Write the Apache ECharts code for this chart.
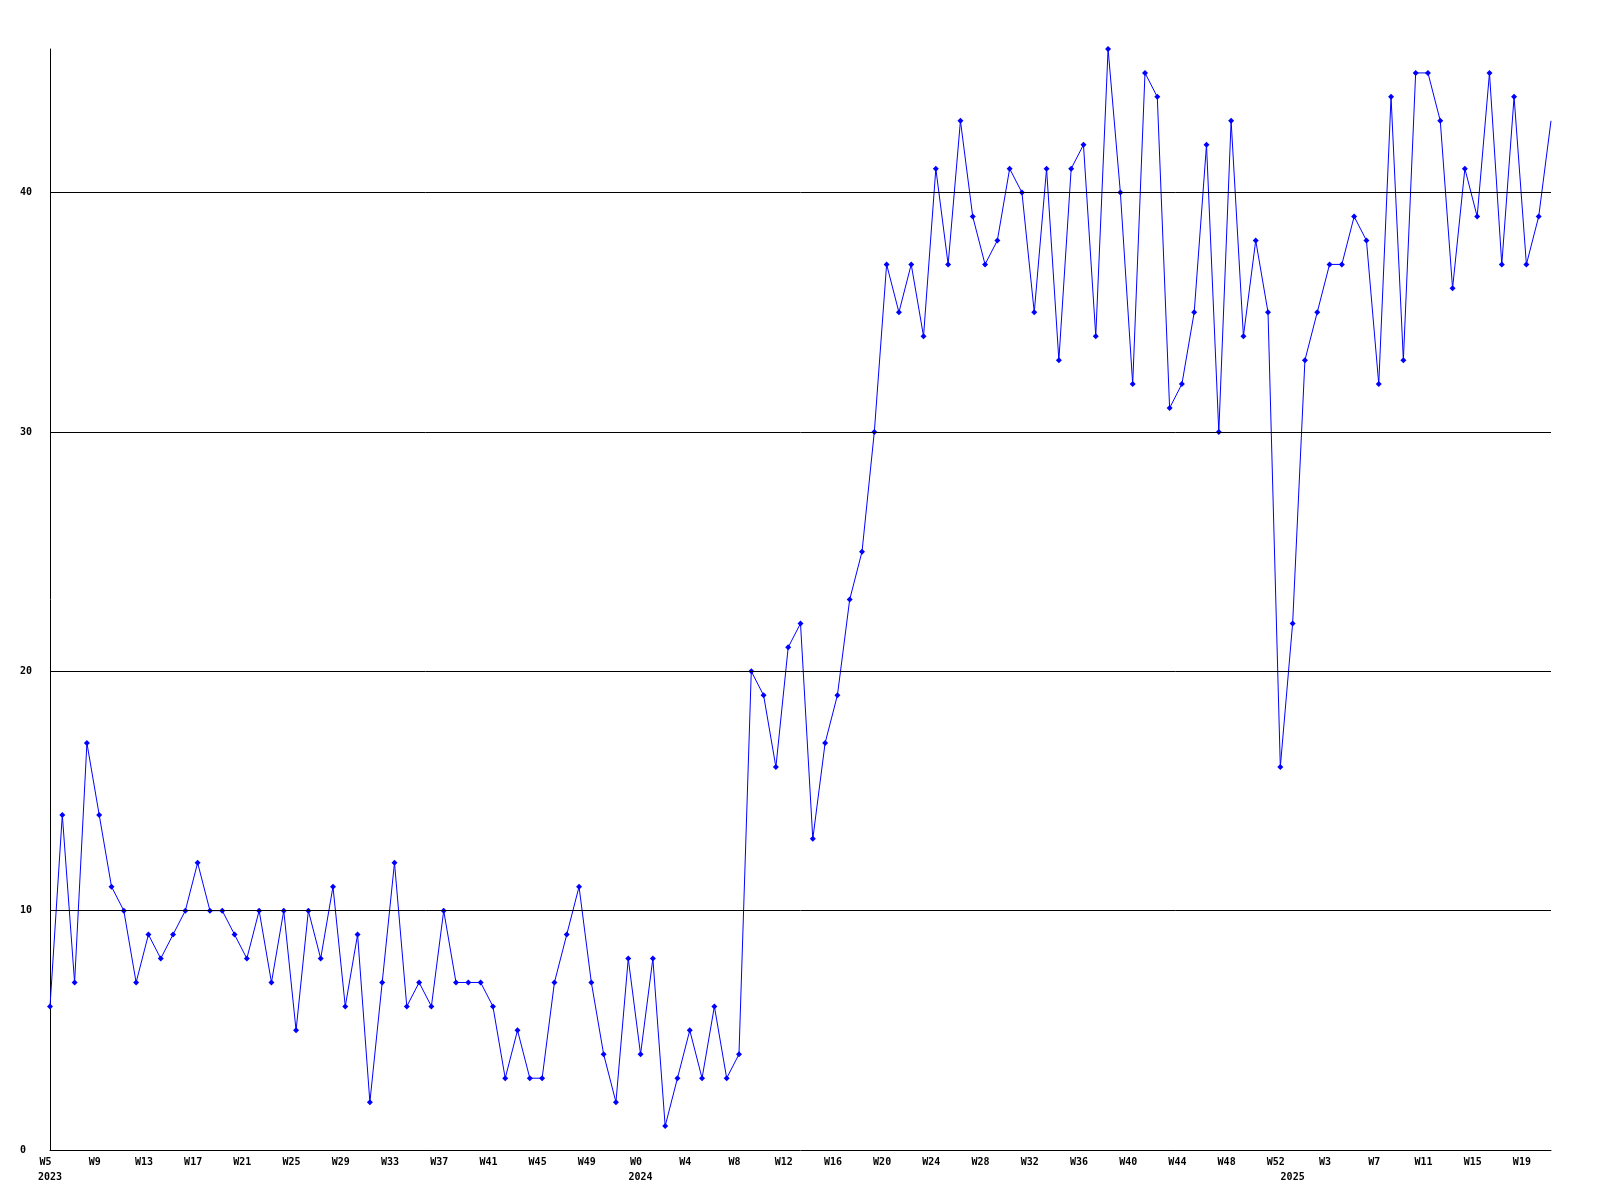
<!DOCTYPE html>
<html><head><meta charset="utf-8">
<script src="https://cdn.jsdelivr.net/npm/echarts@6/dist/echarts.min.js"></script>
<style>html,body{margin:0;padding:0;background:#fff}#c{width:1600px;height:1200px}</style>
</head><body><div id="c"></div>
<script>
// Week ranges covered by the data: [year, first week, last week]
const weekRanges = [[2023, 5, 52], [2024, 0, 52], [2025, 0, 21]];

// Weekly values, one per week
const values = [
  6, 14, 7, 17, 14, 11, 10, 7, 9, 8, 9, 10, 12, 10, 10, 9, 8, 10, 7, 10,
  5, 10, 8, 11, 6, 9, 2, 7, 12, 6, 7, 6, 10, 7, 7, 7, 6, 3, 5, 3,
  3, 7, 9, 11, 7, 4, 2, 8, 4, 8, 1, 3, 5, 3, 6, 3, 4, 20, 19, 16,
  21, 22, 13, 17, 19, 23, 25, 30, 37, 35, 37, 34, 41, 37, 43, 39, 37, 38, 41, 40,
  35, 41, 33, 41, 42, 34, 46, 40, 32, 45, 44, 31, 32, 35, 42, 30, 43, 34, 38, 35,
  16, 22, 33, 35, 37, 37, 39, 38, 32, 44, 33, 45, 45, 43, 36, 41, 39, 45, 37, 44,
  37, 39, 43
];

// Y tick values with gridlines
const yTicks = [10, 20, 30, 40];
const yMax = 46;

// Category labels
const categories = [];
const weekLabels = [];
const yearLabels = [];
weekRanges.forEach(([yr, w0, w1]) => {
  for (let w = w0; w <= w1; w++) {
    categories.push(yr + '-W' + w);
    weekLabels.push('W' + w);
    yearLabels.push(w === w0 ? String(yr) : '');
  }
});

const chart = echarts.init(document.getElementById('c'), null, {renderer: 'canvas'});
const font = 'DejaVu Sans Mono';
const lastIdx = values.length - 1;
chart.setOption({
  animation: false,
  backgroundColor: '#ffffff',
  grid: {left: 50, right: 49, top: 49, bottom: 50, containLabel: false},
  xAxis: {
    type: 'category',
    data: categories,
    boundaryGap: false,
    axisLine: {show: true, lineStyle: {color: '#000', width: 1}},
    axisTick: {show: false},
    splitLine: {show: false},
    axisLabel: {
      interval: (i) => i % 4 === 0 || yearLabels[i] !== '',
      formatter: (v, i) => {
        const wk = i % 4 === 0 ? '{w|' + weekLabels[i] + '}' : '{w| }';
        return yearLabels[i] ? wk + '\n{y|' + yearLabels[i] + '}' : wk;
      },
      margin: 5,
      color: '#000',
      fontFamily: font,
      fontWeight: 'bold',
      fontSize: 10,
      verticalAlign: 'top',
      rich: {
        w: {fontFamily: font, fontWeight: 'bold', fontSize: 10, color: '#000', lineHeight: 15, padding: [0, 9, 0, 0]},
        y: {fontFamily: font, fontWeight: 'bold', fontSize: 10, color: '#000', lineHeight: 15}
      }
    }
  },
  yAxis: {
    type: 'value',
    min: 0,
    max: yMax,
    interval: 10,
    axisLine: {show: true, lineStyle: {color: '#000', width: 1}},
    axisTick: {show: false},
    splitLine: {show: false},
    axisLabel: {
      formatter: (v) => (v % 10 === 0 ? String(v) : ''),
      align: 'left',
      margin: 30,
      color: '#000',
      fontFamily: font,
      fontWeight: 'bold',
      fontSize: 10
    }
  },
  series: [{
    type: 'line',
    data: values,
    symbol: (val, p) => (p.dataIndex === lastIdx ? 'none' : 'diamond'),
    symbolSize: 6,
    showAllSymbol: true,
    clip: true,
    lineStyle: {color: '#0000ff', width: 1},
    itemStyle: {color: '#0000ff'},
    emphasis: {disabled: true},
    markLine: {
      silent: true,
      symbol: ['none', 'none'],
      label: {show: false},
      lineStyle: {color: '#000', type: 'solid', width: 1},
      emphasis: {disabled: true},
      data: yTicks.map(t => ({yAxis: t}))
    }
  }]
});
</script>
</body></html>
